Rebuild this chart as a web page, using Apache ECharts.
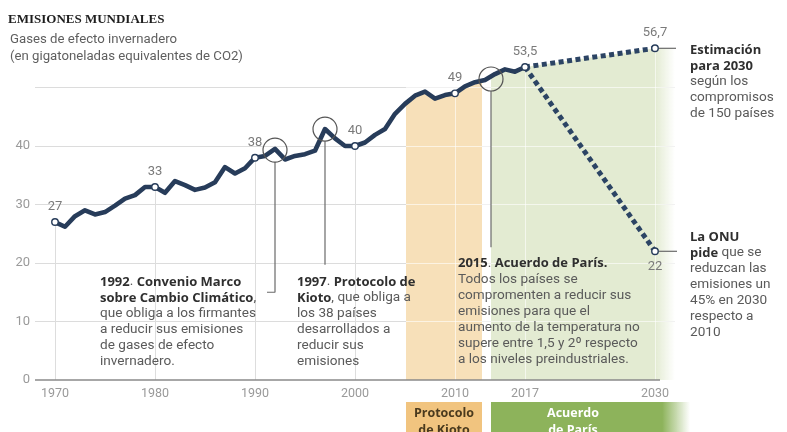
<!DOCTYPE html>
<html><head><meta charset="utf-8">
<script src="https://cdn.jsdelivr.net/npm/echarts@6/dist/echarts.min.js"></script>
<style>html,body{margin:0;padding:0;background:#fff}#c{width:787px;height:432px}</style>
</head><body><div id="c"></div>
<script>
// ---------- DATA ----------
const years = [1970,1971,1972,1973,1974,1975,1976,1977,1978,1979,
               1980,1981,1982,1983,1984,1985,1986,1987,1988,1989,
               1990,1991,1992,1993,1994,1995,1996,1997,1998,1999,
               2000,2001,2002,2003,2004,2005,2006,2007,2008,2009,
               2010,2011,2012,2013,2014,2015,2016,2017];
const emissions = [27,26.2,28.0,29.0,28.3,28.7,29.8,31.0,31.6,33.0,
                   33,32.0,34.0,33.3,32.5,32.9,33.8,36.4,35.3,36.2,
                   38,38.3,39.5,37.7,38.3,38.6,39.2,42.9,41.3,40.0,
                   40,40.6,41.9,42.9,45.5,47.2,48.6,49.3,48.1,48.7,
                   49,50.2,50.9,51.3,52.3,53.1,52.7,53.5];
const projYears = [2017, 2030];
const projPledges = [53.5, 56.7];   // Estimación para 2030
const projOnu = [53.5, 22];         // La ONU pide
const pointYears = [1970,1980,1990,2000,2010,2017,2030,2030];
const pointValues = [27,33,38,40,49,53.5,56.7,22];
const xTickLabels = [1970,1980,1990,2000,2010,2017,2030];
const yTickLabels = [0,10,20,30,40];
const kyotoBand = [2005.1, 2012.7];
const parisBand = [2013.6, 2030];
const circleYears = [1992, 1997, 2013.6];
const circleValues = [39.3, 42.9, 51.45];

// ---------- STYLE ----------
const NAVY = '#273c5a';
const ORANGE = '#f7e0b9';
const GREEN = '#e3ebd2';
const FONT = 'Roboto';
const BFONT = '"Open Sans"';

const historyData = years.map((y,i)=>[y, emissions[i]]);
const areaData = historyData.concat([[projYears[1], projPledges[1]]]);
const f = y => (y - years[0]) / (projYears[1] - years[0]);
const T = 'rgba(255,255,255,0)';
const areaGradient = new echarts.graphic.LinearGradient(0,0,1,0,[
  {offset:0, color:T},
  {offset:f(kyotoBand[0]), color:T},
  {offset:f(kyotoBand[0]), color:ORANGE},
  {offset:f(kyotoBand[1]), color:ORANGE},
  {offset:f(kyotoBand[1]), color:T},
  {offset:f(parisBand[0]), color:T},
  {offset:f(parisBand[0]), color:GREEN},
  {offset:1, color:GREEN}
]);

const dropUnder = pointYears.slice(0,7).map((y,i)=>[{coord:[y,0]},{coord:[y,pointValues[i]]}]);
const overlayLines = [10,20,30,40,50].map(v=>[{coord:[kyotoBand[0],v]},{coord:[2032,v]}])
  .concat(pointYears.slice(4,7).map((y,i)=>[{coord:[y,0]},{coord:[y,pointValues[i+4]]}]));

const chart = echarts.init(document.getElementById('c'));
const option = {
  animation:false,
  grid:{left:35, right:112, top:29, bottom:52},
  xAxis:{type:'value', min:1968, max:2032, interval:1,
    axisLine:{show:false}, axisTick:{show:false}, splitLine:{show:false},
    axisLabel:{formatter:v=>xTickLabels.includes(v)?String(v):'', color:'#9a9a9a', fontSize:12.5, fontFamily:FONT, margin:7, showMinLabel:true, showMaxLabel:true}},
  yAxis:{type:'value', min:0, max:60, interval:10,
    axisLine:{show:false}, axisTick:{show:false},
    splitLine:{lineStyle:{color:[T,'#dcdcdc','#dcdcdc','#dcdcdc','#dcdcdc','#dcdcdc',T], width:1}},
    axisLabel:{formatter:v=>yTickLabels.includes(v)?String(v):'', color:'#9a9a9a', fontSize:13, fontFamily:FONT, margin:5}},
  series:[
    {type:'line', name:'drops', z:1, data:[[1970,27]], symbol:'none', lineStyle:{opacity:0}, silent:true,
      markLine:{z:1, silent:true, symbol:'none', label:{show:false}, lineStyle:{color:'#dddddd', width:1, type:'solid'}, data:dropUnder}},
    {type:'line', name:'bands', z:2, data:areaData, symbol:'none', lineStyle:{width:0, opacity:0}, silent:true,
      areaStyle:{color:areaGradient, opacity:1},
      markArea:{z:2, silent:true, itemStyle:{color:new echarts.graphic.LinearGradient(0,0,1,0,[{offset:0,color:GREEN},{offset:1,color:'rgba(227,235,210,0)'}])},
        data:[[{coord:[projYears[1],0]},{coord:[2032,projPledges[1]]}]]}},
    {type:'line', name:'overlay', z:3, data:[[1970,27]], symbol:'none', lineStyle:{opacity:0}, silent:true,
      markLine:{z:3, silent:true, symbol:'none', label:{show:false}, lineStyle:{color:'rgba(255,255,255,0.6)', width:1, type:'solid'}, data:overlayLines}},
    {type:'line', name:'axis', z:4, data:[[1970,27]], symbol:'none', lineStyle:{opacity:0}, silent:true,
      markLine:{z:4, silent:true, symbol:'none', label:{show:false}, lineStyle:{color:'#8a8a8a', width:1.5, type:'solid'},
        data:[[{coord:[1968,0]},{coord:[2030.5,0]}]]}},
    // connectors
    {type:'line', z:4, silent:true, symbol:'none', clip:false, lineStyle:{color:'#6a6a6a', width:1.2}, data:[[1992,37.25],[1992,15.0],[1991.2,15.0]]},
    {type:'line', z:4, silent:true, symbol:'none', clip:false, lineStyle:{color:'#6a6a6a', width:1.2}, data:[[1997,40.8],[1997,19.7]]},
    {type:'line', z:4, silent:true, symbol:'none', clip:false, lineStyle:{color:'#6a6a6a', width:1.2}, data:[[2013.6,49.4],[2013.6,22.7]]},
    {type:'line', z:4, silent:true, symbol:'none', clip:false, lineStyle:{color:'#6a6a6a', width:1.2}, data:[[2030.35,56.7],[2032.1,56.7]]},
    {type:'line', z:4, silent:true, symbol:'none', clip:false, lineStyle:{color:'#6a6a6a', width:1.2}, data:[[2030.35,22],[2032.3,22]]},
    // data lines
    {type:'line', name:'Emisiones', z:5, data:historyData, symbol:'none', lineStyle:{color:NAVY, width:4.6, cap:'round', join:'round'}},
    {type:'line', name:'Estimación 2030', z:5, data:projYears.map((y,i)=>[y,projPledges[i]]), symbol:'none',
      lineStyle:{color:'#2c4464', width:5, type:[5,3.5], cap:'butt'}},
    {type:'line', name:'ONU', z:5, data:projYears.map((y,i)=>[y,projOnu[i]]), symbol:'none',
      lineStyle:{color:'#2c4464', width:5, type:[5,3.5], cap:'butt'}},
    // points
    {type:'scatter', z:6, symbol:'circle', symbolSize:6.5, clip:false,
      itemStyle:{color:'#fff', borderColor:NAVY, borderWidth:1.4, opacity:1},
      label:{show:true, position:'top', distance:5, color:'#7a7a7a', fontSize:13, fontFamily:FONT, formatter:p=>String(p.value[1]).replace('.',',')},
      data:pointYears.map((y,i)=>{
        const d = {value:[y,pointValues[i]]};
        if (i === pointYears.length-1) d.label = {position:'bottom', distance:5};
        return d;
      })},
    // annotation circles
    {type:'scatter', z:6, symbol:'circle', symbolSize:24, silent:true,
      itemStyle:{color:'rgba(0,0,0,0)', borderColor:'#555', borderWidth:1.2, opacity:1},
      data:circleYears.map((y,i)=>[y,circleValues[i]])}
  ]
};
chart.setOption(option);

const px = (x,y)=>chart.convertToPixel({gridIndex:0},[x,y]);
const kL = px(kyotoBand[0],0)[0], kR = px(kyotoBand[1],0)[0];
const pL = px(parisBand[0],0)[0];
const pEnd = 690;

const rich = {
  n:{fontFamily:FONT, fontSize:13.6, fill:'#5a5a5a', lineHeight:16},
  b:{fontFamily:BFONT, fontSize:13, fontWeight:'bold', fill:'#2f2f2f', lineHeight:16}
};
function txt(x, y, text, extra){
  return Object.assign({type:'text', x:x, y:y, z:20, silent:true,
    style:Object.assign({text:text, fontFamily:FONT, fontSize:13.6, fill:'#5a5a5a', lineHeight:16, verticalAlign:'top', rich:rich}, extra||{})});
}

chart.setOption({graphic:[
  {type:'text', x:8, y:13, z:20, style:{text:'EMISIONES MUNDIALES', font:'bold 13px "Liberation Serif"', fill:'#1e1e1e', verticalAlign:'top'}},
  {type:'text', x:10, y:31.5, z:20, style:{text:'Gases de efecto invernadero\n(en gigatoneladas equivalentes de CO2)', fontFamily:FONT, fontSize:13.2, fill:'#5f5f5f', lineHeight:17, verticalAlign:'top'}},
  txt(100, 274, '{b|1992}{n|. }{b|Convenio Marco}\n{b|sobre Cambio Climático}{n|,}\n{n|que obliga a los firmantes}\n{n|a reducir sus emisiones}\n{n|de gases de efecto}\n{n|invernadero.}'),
  txt(297, 274, '{b|1997}{n|. }{b|Protocolo de}\n{b|Kioto}{n|, que obliga a}\n{n|los 38 países}\n{n|desarrollados a}\n{n|reducir sus}\n{n|emisiones}'),
  txt(458, 255.5, '{b|2015}{n|. }{b|Acuerdo de París.}\n{n|Todos los países se}\n{n|compromenten a reducir sus}\n{n|emisiones para que el}\n{n|aumento de la temperatura no}\n{n|supere entre 1,5 y 2º respecto}\n{n|a los niveles preindustriales.}'),
  txt(690, 42, '{b|Estimación}\n{b|para 2030}\n{n|según los}\n{n|compromisos}\n{n|de 150 países}'),
  txt(690, 229, '{b|La ONU}\n{b|pide}{n| que se}\n{n|reduzcan las}\n{n|emisiones un}\n{n|45% en 2030}\n{n|respecto a}\n{n|2010}'),
  // bottom period boxes
  {type:'rect', z:20, silent:true, shape:{x:kL, y:402, width:kR-kL, height:40}, style:{fill:'#f1c47f'}},
  {type:'text', z:21, silent:true, x:(kL+kR)/2, y:405, style:{text:'Protocolo\nde Kioto', fontFamily:BFONT, fontSize:12.5, fontWeight:'bold', fill:'#4a3a1e', lineHeight:17, align:'center', verticalAlign:'top'}},
  {type:'rect', z:20, silent:true, shape:{x:pL, y:402, width:pEnd-pL, height:40},
    style:{fill:new echarts.graphic.LinearGradient(0,0,1,0,[{offset:0,color:'#8db35b'},{offset:0.86,color:'#8db35b'},{offset:1,color:'rgba(141,179,91,0)'}])}},
  {type:'text', z:21, silent:true, x:573, y:405, style:{text:'Acuerdo\nde París', fontFamily:BFONT, fontSize:12.5, fontWeight:'bold', fill:'#ffffff', lineHeight:17, align:'center', verticalAlign:'top'}}
]});
</script>
</body></html>
